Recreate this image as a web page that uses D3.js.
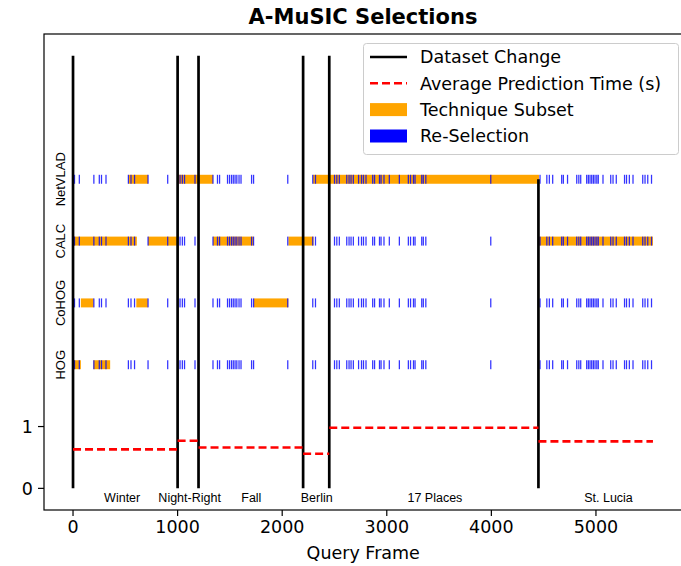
<!DOCTYPE html>
<html>
<head>
<meta charset="utf-8">
<script src="https://cdn.jsdelivr.net/npm/d3@7"></script>
<style>
  html, body { margin: 0; padding: 0; background: #fff; }
  svg { display: block; }
</style>
</head>
<body>
<div id="chart"></div>
<script>
// ---------------- DATA ----------------
const techniques = ["HOG", "CoHOG", "CALC", "NetVLAD"];
const techniqueRows = [2, 3, 4, 5];

const datasets = ["Winter", "Night-Right", "Fall", "Berlin", "17 Places", "St. Lucia"];
const datasetStarts = [0, 1000, 1200, 2200, 2450, 4450];
const datasetEnd = 5545;
const changeLineTops = [7, 7, 7, 7, 7, 5];
const datasetLabelX = [470, 1115, 1705, 2330, 3460, 5120];
const avgPredictionTime = [0.63, 0.77, 0.66, 0.56, 0.98, 0.76];

const subsetHOG = [[0, 75], [195, 355]];
const subsetCoHOG = [[75, 197], [605, 715], [1728, 2058]];
const subsetCALC = [[0, 610], [717, 1000], [1338, 1726], [2060, 2300], [4458, 5545]];
const subsetNetVLAD = [[531, 717], [1000, 1338], [2294, 4455]];

const reselections = [
  14, 60, 199, 251, 272, 315, 529, 554, 588, 717, 905,
  1023, 1045, 1066, 1166,
  1338, 1381, 1401, 1477, 1496, 1515, 1532, 1549, 1566, 1587, 1606, 1707, 1726, 2053,
  2292, 2318,
  2500, 2522, 2546, 2617, 2639, 2658, 2680, 2730, 2758, 2777, 2801, 2865, 2883, 2930, 2945,
  2973, 3024, 3120, 3206, 3227, 3255, 3270, 3334, 3349, 3373, 3994,
  4465, 4530, 4554, 4586, 4672, 4688, 4728, 4816, 4836, 4854, 4911, 4927, 4943, 4959, 4975,
  4991, 5008, 5022, 5067, 5141, 5163, 5194, 5273, 5292, 5319, 5354, 5447, 5469, 5495, 5531
];

const xTicks = [0, 1000, 2000, 3000, 4000, 5000];
const yTicks = [0, 1];
const legendLabels = ["Dataset Change", "Average Prediction Time (s)", "Technique Subset", "Re-Selection"];

// ---------------- CHART ----------------
const W = 681, H = 566;
const svg = d3.select("#chart").append("svg").attr("width", W).attr("height", H);

const x = d3.scaleLinear().domain([-277.5, 5827.5]).range([44, 682.5]);
const y = d3.scaleLinear().domain([-0.35, 7.35]).range([510, 34]);

const FONT = "'DejaVu Sans', sans-serif";
const SMALL = "'Liberation Sans', Arial, sans-serif";

// Title
svg.append("text").attr("x", 363).attr("y", 24).attr("text-anchor", "middle")
  .style("font-family", FONT).style("font-weight", "bold").style("font-size", "21px")
  .text("A-MuSIC Selections");

const plot = svg.append("g");

// Technique subset bars
const subsets = [subsetHOG, subsetCoHOG, subsetCALC, subsetNetVLAD];
const barH = 0.145;
subsets.forEach((segs, i) => {
  plot.append("g").selectAll("rect").data(segs).join("rect")
    .attr("x", d => x(d[0]))
    .attr("width", d => x(d[1]) - x(d[0]))
    .attr("y", y(techniqueRows[i] + barH / 2))
    .attr("height", y(techniqueRows[i] - barH / 2) - y(techniqueRows[i] + barH / 2))
    .attr("fill", "#FFA500");
});

// Re-selection ticks (same frames on each row)
techniqueRows.forEach(r => {
  plot.append("g").selectAll("rect").data(reselections).join("rect")
    .attr("x", d => x(d) - 0.6)
    .attr("width", d => x(d + 12) - x(d))
    .attr("y", y(r + barH / 2))
    .attr("height", y(r - barH / 2) - y(r + barH / 2))
    .attr("fill", "#0000FF")
    .attr("opacity", 0.8);
});

// Dataset change lines
plot.append("g").selectAll("line").data(datasetStarts).join("line")
  .attr("x1", d => x(d)).attr("x2", d => x(d))
  .attr("y1", y(0)).attr("y2", (d, i) => y(changeLineTops[i]))
  .attr("stroke", "#000").attr("stroke-width", 2.7);

// Average prediction time
const ends = datasetStarts.slice(1).concat([datasetEnd]);
plot.append("g").selectAll("line").data(avgPredictionTime).join("line")
  .attr("x1", (d, i) => x(datasetStarts[i])).attr("x2", (d, i) => x(ends[i]))
  .attr("y1", d => y(d)).attr("y2", d => y(d))
  .attr("stroke", "#FF0000").attr("stroke-width", 2.6)
  .attr("stroke-dasharray", "8,4");

// Dataset labels
plot.append("g").selectAll("text").data(datasets).join("text")
  .attr("x", (d, i) => x(datasetLabelX[i])).attr("y", 502)
  .attr("text-anchor", "middle")
  .style("font-family", SMALL).style("font-size", "12.5px")
  .text(d => d);

// Technique labels
plot.append("g").selectAll("text").data(techniques).join("text")
  .attr("transform", (d, i) => `translate(${x(-125)},${y(techniqueRows[i])}) rotate(-90)`)
  .attr("text-anchor", "middle").attr("dy", "0.35em")
  .style("font-family", SMALL).style("font-size", "13px")
  .text(d => d);

// Spines
const spines = svg.append("g").attr("stroke", "#000").attr("stroke-width", 1.2).attr("fill", "none");
spines.append("rect").attr("x", 44).attr("y", 34).attr("width", 682.5 - 44).attr("height", 510 - 34);

// X axis
const xa = svg.append("g");
xTicks.forEach(t => {
  xa.append("line").attr("x1", x(t)).attr("x2", x(t)).attr("y1", 510).attr("y2", 516)
    .attr("stroke", "#000").attr("stroke-width", 1.2);
  xa.append("text").attr("x", x(t)).attr("y", 520).attr("dy", "0.76em").attr("text-anchor", "middle")
    .style("font-family", FONT).style("font-size", "17.5px").text(t);
});
svg.append("text").attr("x", x(2775)).attr("y", 559).attr("text-anchor", "middle")
  .style("font-family", FONT).style("font-size", "17.5px").text("Query Frame");

// Y axis
const ya = svg.append("g");
yTicks.forEach(t => {
  ya.append("line").attr("x1", 38).attr("x2", 44).attr("y1", y(t)).attr("y2", y(t))
    .attr("stroke", "#000").attr("stroke-width", 1.2);
  ya.append("text").attr("x", 33).attr("y", y(t)).attr("dy", "0.36em").attr("text-anchor", "end")
    .style("font-family", FONT).style("font-size", "17.5px").text(t);
});

// Legend
const lg = svg.append("g");
lg.append("rect").attr("x", 363.5).attr("y", 43.5).attr("width", 315).attr("height", 111)
  .attr("rx", 3).attr("fill", "#fff").attr("fill-opacity", 0.8)
  .attr("stroke", "#ccc").attr("stroke-width", 1);
const ly = [57, 83.3, 109.6, 136];
lg.append("line").attr("x1", 370).attr("x2", 407).attr("y1", ly[0]).attr("y2", ly[0])
  .attr("stroke", "#000").attr("stroke-width", 2.7);
lg.append("line").attr("x1", 370).attr("x2", 407).attr("y1", ly[1]).attr("y2", ly[1])
  .attr("stroke", "#FF0000").attr("stroke-width", 2.6).attr("stroke-dasharray", "8,4");
lg.append("rect").attr("x", 370).attr("y", ly[2] - 6.5).attr("width", 37).attr("height", 13).attr("fill", "#FFA500");
lg.append("rect").attr("x", 370).attr("y", ly[3] - 6.5).attr("width", 37).attr("height", 13).attr("fill", "#0000FF");
legendLabels.forEach((t, i) => {
  lg.append("text").attr("x", 420).attr("y", ly[i]).attr("dy", "0.36em")
    .style("font-family", FONT).style("font-size", "17.5px").text(t);
});
</script>
</body>
</html>
